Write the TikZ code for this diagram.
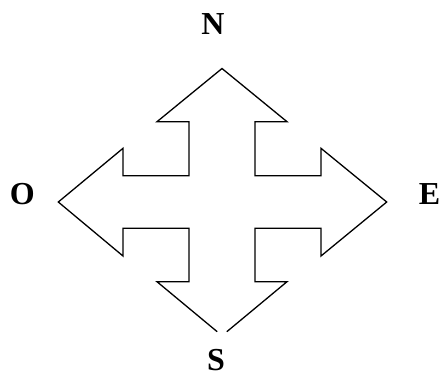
\documentclass[tikz,border=0pt]{standalone}
\usepackage{fontspec}
\setmainfont{Liberation Serif}
\begin{document}
\begin{tikzpicture}[x=1pt,y=-1pt,
  outline/.style={draw=black,line width=1.3pt,line join=miter},
  lbl/.style={font=\fontsize{32}{32}\selectfont\bfseries,inner sep=0pt}]
\useasboundingbox (0,0) rectangle (441,373);
\draw[outline] (226.8,331.7) -- (287,281.7) -- (255,281.7) -- (255,228.3)
  -- (321,228.3) -- (321,256) -- (386.7,202) -- (321,148.3) -- (321,175.7)
  -- (255,175.7) -- (255,121.7) -- (287,121.7) -- (222,68.5) -- (157,121.7)
  -- (189,121.7) -- (189,175.7) -- (123,175.7) -- (123,148.3) -- (58.3,202)
  -- (123,256) -- (123,228.3) -- (189,228.3) -- (189,281.7) -- (157,281.7)
  -- (217.2,331.7);
\node[lbl] (n) at (213,24) {N};
\node[lbl] (o) at (22.3,194.2) {O};
\node[lbl] (e) at (429.5,194) {E};
\node[lbl] (s) at (216,359.8) {S};
\end{tikzpicture}
\end{document}
